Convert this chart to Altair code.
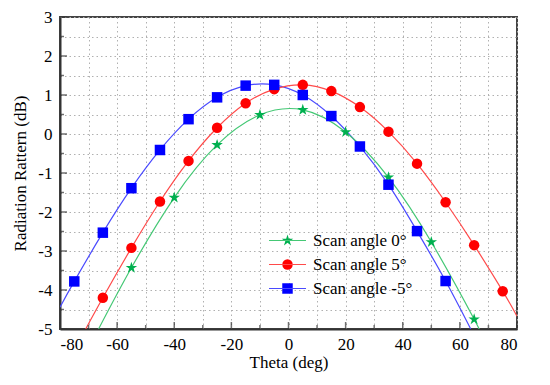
import altair as alt
import pandas as pd

# ---- data ----
series_names = ["Scan angle 0°", "Scan angle 5°", "Scan angle -5°"]

green_x = [-55, -40, -25, -10, 5, 20, 35, 50, 65]
green_y = [-3.43, -1.63, -0.28, 0.49, 0.62, 0.05, -1.11, -2.77, -4.75]

red_x = [-65, -55, -45, -35, -25, -15, -5, 5, 15, 25, 35, 45, 55, 65, 75]
red_y = [-4.20, -2.92, -1.73, -0.69, 0.16, 0.79, 1.15, 1.26, 1.10, 0.69, 0.06, -0.76, -1.75, -2.85, -4.03]

blue_x = [-75, -65, -55, -45, -35, -25, -15, -5, 5, 15, 25, 35, 45, 55]
blue_y = [-3.78, -2.53, -1.39, -0.41, 0.38, 0.94, 1.24, 1.26, 1.00, 0.46, -0.32, -1.30, -2.49, -3.77]

# where the fitted curves leave the frame
green_ends_x = [-66.5, 66.5]
green_ends_y = [-5.0, -5.0]
red_ends_x = [-71.0, 80.0]
red_ends_y = [-5.0, -4.67]
blue_ends_x = [-80.0, 63.8]
blue_ends_y = [-4.44, -5.0]

x_major = [-80, -60, -40, -20, 0, 20, 40, 60, 80]
x_minor = [-70, -50, -30, -10, 10, 30, 50, 70]
y_major = [-5, -4, -3, -2, -1, 0, 1, 2, 3]
y_minor = [-4.5, -3.5, -2.5, -1.5, -0.5, 0.5, 1.5, 2.5]

marker_colors = ["#00b04f", "#ff0000", "#0000ff"]
line_colors = ["#45c875", "#ff4a4a", "#4a4aff"]
STAR = ("M0,-1.15L0.258,-0.355L1.094,-0.355L0.418,0.136L0.676,0.93L0,0.44"
        "L-0.676,0.93L-0.418,0.136L-1.094,-0.355L-0.258,-0.355Z")
shapes = [STAR, "circle", "square"]
LEGEND_LINE = "M-3,0L3,0"

FONT = "Liberation Serif, Times New Roman, serif"

# ---- tables ----
pts = pd.concat([
    pd.DataFrame({"theta": green_x, "db": green_y, "series": series_names[0]}),
    pd.DataFrame({"theta": red_x, "db": red_y, "series": series_names[1]}),
    pd.DataFrame({"theta": blue_x, "db": blue_y, "series": series_names[2]}),
])
lines = pd.concat([
    pd.DataFrame({"theta": green_x + green_ends_x, "db": green_y + green_ends_y, "series": series_names[0]}),
    pd.DataFrame({"theta": red_x + red_ends_x, "db": red_y + red_ends_y, "series": series_names[1]}),
    pd.DataFrame({"theta": blue_x + blue_ends_x, "db": blue_y + blue_ends_y, "series": series_names[2]}),
]).sort_values(["series", "theta"])

xscale = alt.Scale(domain=[-80, 80], nice=False, zero=False)
yscale = alt.Scale(domain=[-5, 3], nice=False, zero=False)

x_axis = alt.Axis(
    values=x_major + x_minor,
    labelExpr="datum.value % 20 == 0 ? '' + datum.value : ''",
    labelOverlap=False,
    grid=True, gridDash=[1.5, 3], gridColor="#b0b0b0", gridWidth=1,
    ticks=False, domainColor="#333333", domainWidth=2,
    labelFont=FONT, labelFontSize=17, labelColor="black", labelPadding=7,
    title="Theta (deg)", titleFont=FONT, titleFontSize=17, titleFontWeight="normal",
    titleColor="black", titlePadding=2,
)
y_axis = alt.Axis(
    values=y_major + y_minor,
    labelExpr="datum.value % 1 == 0 ? '' + datum.value : ''",
    labelOverlap=False,
    grid=True, gridDash=[1.5, 3], gridColor="#b0b0b0", gridWidth=1,
    ticks=False, domainColor="#333333", domainWidth=2,
    labelFont=FONT, labelFontSize=17, labelColor="black", labelPadding=8,
    title="Radiation Rattern (dB)", titleFont=FONT, titleFontSize=17,
    titleFontWeight="normal", titleColor="black", titlePadding=8,
)

X = alt.X("theta:Q", scale=xscale, axis=x_axis)
Y = alt.Y("db:Q", scale=yscale, axis=y_axis)

line_layer = alt.Chart(lines).mark_line(interpolate="natural", strokeWidth=1.2, clip=True).encode(
    x=X, y=Y,
    stroke=alt.Stroke(
        "series:N",
        scale=alt.Scale(domain=series_names, range=line_colors),
        legend=alt.Legend(
            title=None, orient="none", legendX=219, legendY=215,
            symbolType=LEGEND_LINE, symbolSize=152, symbolStrokeWidth=1.2,
            symbolFillColor="transparent",
            labelFont=FONT, labelFontSize=17, labelColor="black", labelOffset=17,
            rowPadding=6, padding=0, labelLimit=300,
        ),
    ),
    detail="series:N",
)

pt_legend = alt.Legend(
    title=None, orient="none", legendX=219, legendY=215,
    symbolSize=110, symbolStrokeWidth=0,
    labelFont=FONT, labelFontSize=17, labelColor="transparent", labelOffset=6,
    labelExpr="''",
    rowPadding=6, padding=0, labelLimit=300,
)

point_layer = alt.Chart(pts).mark_point(filled=True, size=110, opacity=1, clip=True).encode(
    x=X, y=Y,
    color=alt.Color(
        "series:N",
        scale=alt.Scale(domain=series_names, range=marker_colors),
        legend=pt_legend,
    ),
    shape=alt.Shape(
        "series:N",
        scale=alt.Scale(domain=series_names, range=shapes),
        legend=pt_legend,
    ),
)

xt_major = pd.DataFrame({"theta": x_major, "db": [-5] * len(x_major)})
xt_minor = pd.DataFrame({"theta": x_minor, "db": [-5] * len(x_minor)})
yt_major = pd.DataFrame({"theta": [-80] * len(y_major), "db": y_major})
yt_minor = pd.DataFrame({"theta": [-80] * len(y_minor), "db": y_minor})

def xticks(df, size):
    return alt.Chart(df).mark_tick(orient="vertical", size=size, thickness=1.5,
                                   color="#333333", yOffset=-size / 2).encode(x=X, y=Y)

def yticks(df, size):
    return alt.Chart(df).mark_tick(orient="horizontal", size=size, thickness=1.5,
                                   color="#333333", xOffset=size / 2).encode(x=X, y=Y)

chart = alt.layer(
    line_layer, point_layer,
    xticks(xt_major, 7), xticks(xt_minor, 4), yticks(yt_major, 7), yticks(yt_minor, 4),
).resolve_legend(stroke="independent").properties(
    width=457, height=312,
    padding={"left": 3, "top": 0, "right": 5, "bottom": 5},
    background="white",
).configure_view(stroke="#444444", strokeWidth=2)

chart.save("out.html", embed_options={"renderer": "svg", "actions": False})
